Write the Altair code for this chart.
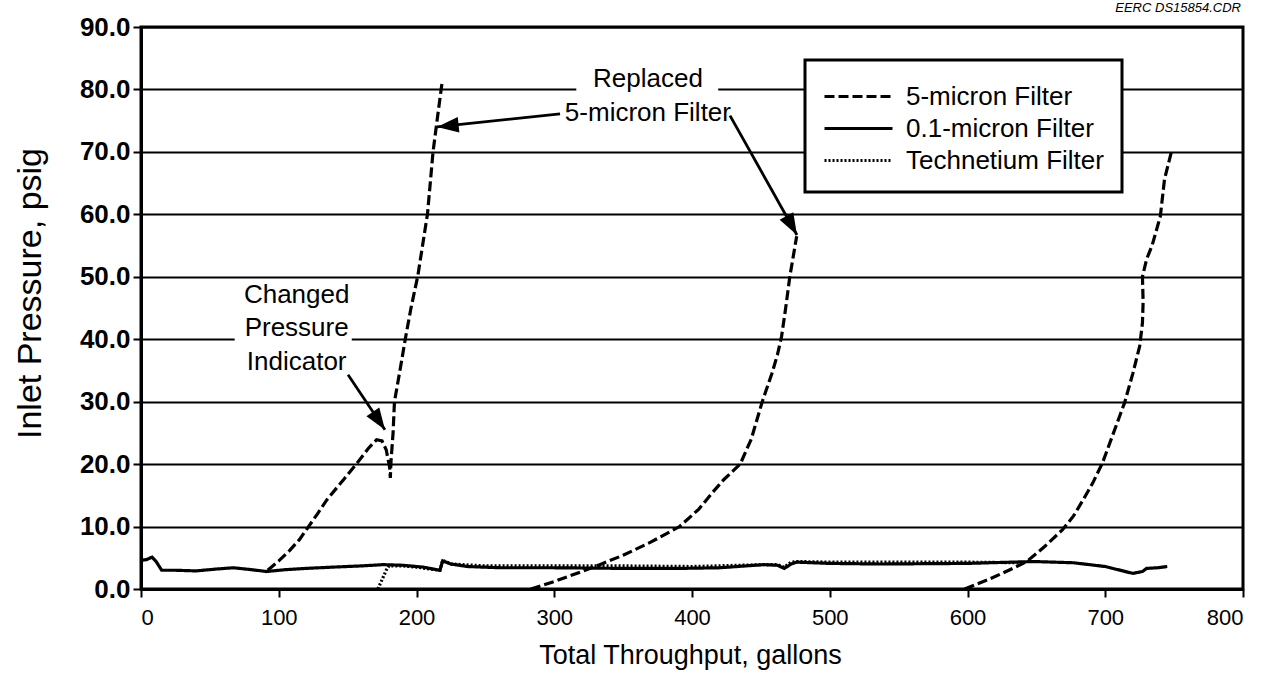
import altair as alt
import pandas as pd

# ---------------- data ----------------
series_names = ["5-micron Filter", "0.1-micron Filter", "Technetium Filter"]

# 5-micron filter: three filter elements
five1_x = [92, 100, 108, 115, 121, 128, 135, 147, 157, 165, 171, 175, 178, 180.5, 181, 181.5, 183, 184, 188, 192, 196, 201, 208, 212, 215.5, 218.5]
five1_y = [3.0, 4.5, 6.2, 7.9, 9.8, 12.0, 14.3, 17.5, 20.2, 22.5, 23.9, 23.7, 22.3, 19.5, 17.8, 20.5, 25.0, 30.0, 35.0, 40.2, 45.0, 50.2, 60.1, 70.0, 76.0, 81.0]
five2_x = [283, 300, 320, 333, 350, 370, 391, 405, 415, 423, 435, 443, 451, 458, 462, 465, 468, 471, 476]
five2_y = [0.0, 1.2, 2.8, 3.9, 5.4, 7.5, 10.0, 12.8, 15.5, 17.5, 20.0, 24.0, 30.0, 34.5, 37.5, 40.4, 45.0, 50.0, 56.5]
five3_x = [598, 615, 630, 643, 656, 669, 677, 684, 691, 698, 706, 714, 720, 725, 727, 727.5, 727, 730, 734, 740, 743, 748]
five3_y = [0.0, 1.5, 3.0, 4.4, 6.8, 9.5, 11.7, 14.3, 17.0, 20.2, 25.0, 29.8, 34.5, 38.9, 42.6, 46.0, 50.0, 52.8, 55.0, 59.7, 65.6, 70.0]

# 0.1-micron filter
fine_x = [0, 4, 8, 11, 15, 25, 40, 55, 67, 80, 91, 105, 120, 139, 160, 176, 190, 205, 212, 217, 219, 225, 237, 261, 300, 350, 391, 420, 452, 462, 467, 472, 476, 500, 536, 600, 648, 677, 700, 720, 727, 730, 738, 745]
fine_y = [4.6, 4.7, 5.1, 4.4, 3.0, 3.0, 2.9, 3.2, 3.4, 3.1, 2.8, 3.1, 3.3, 3.5, 3.7, 3.9, 3.8, 3.5, 3.2, 3.0, 4.5, 4.0, 3.6, 3.4, 3.4, 3.3, 3.3, 3.4, 3.9, 3.8, 3.3, 4.0, 4.3, 4.1, 4.0, 4.1, 4.4, 4.2, 3.6, 2.5, 2.8, 3.3, 3.4, 3.6]

# Technetium filter
tc_x = [172, 175, 178, 180, 190, 200, 210, 217, 219, 225, 250, 300, 350, 400, 452, 462, 467, 472, 476, 500, 550, 600, 640]
tc_y = [0.0, 1.5, 3.0, 3.7, 3.7, 3.5, 3.2, 3.0, 4.6, 4.0, 3.7, 3.7, 3.7, 3.6, 3.9, 3.9, 3.5, 4.3, 4.4, 4.3, 4.3, 4.3, 4.2]

# annotations
note_text = ["Replaced", "5-micron Filter", "Changed", "Pressure", "Indicator"]
note_x = [368, 368, 113, 113, 113]
note_y = [81.6, 76.3, 47.1, 41.8, 36.4]

# white boxes behind annotation text (gaps in the grid lines)
box_x = [316, 68]
box_x2 = [419, 153]
box_y = [78.0, 39.0]
box_y2 = [83.0, 41.0]

# arrows: start, tip, head direction (degrees clockwise from up)
arrow_x = [304.2, 427.6, 150.3]
arrow_y = [76.1, 75.8, 34.3]
arrow_x2 = [214.9, 476.2, 177.1]
arrow_y2 = [74.0, 56.7, 25.5]
arrow_angle = [264, 151, 146]

x_ticks = [0, 100, 200, 300, 400, 500, 600, 700, 800]
y_ticks = [0, 10, 20, 30, 40, 50, 60, 70, 80, 90]

file_tag = "EERC DS15854.CDR"

# ---------------- tables ----------------
rows = []
def add(series, seg, xs, ys):
    for i, (xv, yv) in enumerate(zip(xs, ys)):
        rows.append({"series": series, "seg": f"{series} {seg}", "x": xv, "y": yv, "i": i})

add(series_names[0], 1, five1_x, five1_y)
add(series_names[0], 2, five2_x, five2_y)
add(series_names[0], 3, five3_x, five3_y)
add(series_names[1], 1, fine_x, fine_y)
add(series_names[2], 1, tc_x, tc_y)
df = pd.DataFrame(rows)

notes = pd.DataFrame({"text": note_text, "x": note_x, "y": note_y})
boxes = pd.DataFrame({"x": box_x, "x2": box_x2, "y": box_y, "y2": box_y2})
arrows = pd.DataFrame({"x": arrow_x, "y": arrow_y, "x2": arrow_x2, "y2": arrow_y2, "ang": arrow_angle})
tag = pd.DataFrame({"text": [file_tag]})

FONT = "Liberation Sans"

x_scale = alt.Scale(domain=[0, 800], nice=False, zero=False)
y_scale = alt.Scale(domain=[0, 90], nice=False, zero=False)

lines = alt.Chart(df).mark_line(color="black", strokeWidth=3.2, strokeCap="butt").encode(
    x=alt.X("x:Q", scale=x_scale,
            axis=alt.Axis(values=x_ticks, title="Total Throughput, gallons", grid=False,
                          labelFontSize=22, labelPadding=10, titleFontSize=27,
                          titleX=549, titleY=66, titleBaseline="middle", titleAlign="center")),
    y=alt.Y("y:Q", scale=y_scale,
            axis=alt.Axis(values=y_ticks, format=".1f", title="Inlet Pressure, psig", grid=True,
                          gridColor="black", gridWidth=2, gridOpacity=1,
                          labelFontSize=26, labelFontWeight="bold", labelPadding=3, titleFontSize=34,
                          titleX=-111, titleY=266, titleBaseline="middle", titleAlign="center")),
    strokeDash=alt.StrokeDash("series:N",
                              scale=alt.Scale(domain=series_names, range=[[10, 4], [1, 0], [2, 2]]),
                              legend=alt.Legend(title=None, orient="none", legendX=664, legendY=33)),
    detail="seg:N",
    order="i:Q",
)

white_boxes = alt.Chart(boxes).mark_rect(color="white").encode(
    x=alt.X("x:Q", scale=x_scale),
    x2="x2:Q",
    y=alt.Y("y:Q", scale=y_scale),
    y2="y2:Q",
)

texts = alt.Chart(notes).mark_text(font=FONT, fontSize=26, color="black", align="center", baseline="middle").encode(
    x=alt.X("x:Q", scale=x_scale),
    y=alt.Y("y:Q", scale=y_scale),
    text="text:N",
)

shafts = alt.Chart(arrows).mark_rule(color="black", strokeWidth=2.8).encode(
    x=alt.X("x:Q", scale=x_scale),
    y=alt.Y("y:Q", scale=y_scale),
    x2="x2:Q",
    y2="y2:Q",
)

heads = alt.Chart(arrows).mark_point(shape="M0,0L0.45,1.25L-0.45,1.25Z", filled=True, color="black",
                                     opacity=1, size=1200, strokeWidth=0).encode(
    x=alt.X("x2:Q", scale=x_scale),
    y=alt.Y("y2:Q", scale=y_scale),
    angle=alt.Angle("ang:Q", scale=None),
)

tag_text = alt.Chart(tag).mark_text(font=FONT, fontSize=13, fontStyle="italic", color="black",
                                    align="right", baseline="middle").encode(
    x=alt.value(1100),
    y=alt.value(-19),
    text="text:N",
)

chart = alt.layer(lines, white_boxes, shafts, heads, texts, tag_text).properties(
    width=1102,
    height=562,
    padding={"left": 141, "top": 27, "right": 27, "bottom": 94},
    autosize=alt.AutoSizeParams(type="none"),
    background="white",
).configure_view(
    stroke="black", strokeWidth=3,
).configure_axis(
    domainColor="black", domainWidth=3, tickColor="black", tickWidth=2, tickSize=8,
    labelFont=FONT, labelColor="black", titleFont=FONT, titleColor="black",
    titleFontWeight="normal",
).configure_legend(
    fillColor="white", strokeColor="black", strokeWidth=3, padding=18,
    labelFont=FONT, labelFontSize=26, labelColor="black", labelOffset=46, labelLimit=400,
    symbolType="M-1,0L3,0", symbolSize=1156, symbolStrokeWidth=3, symbolStrokeColor="black",
    symbolFillColor="transparent", rowPadding=0,
)

chart.save("out.html", embed_options={"renderer": "svg", "actions": False})
